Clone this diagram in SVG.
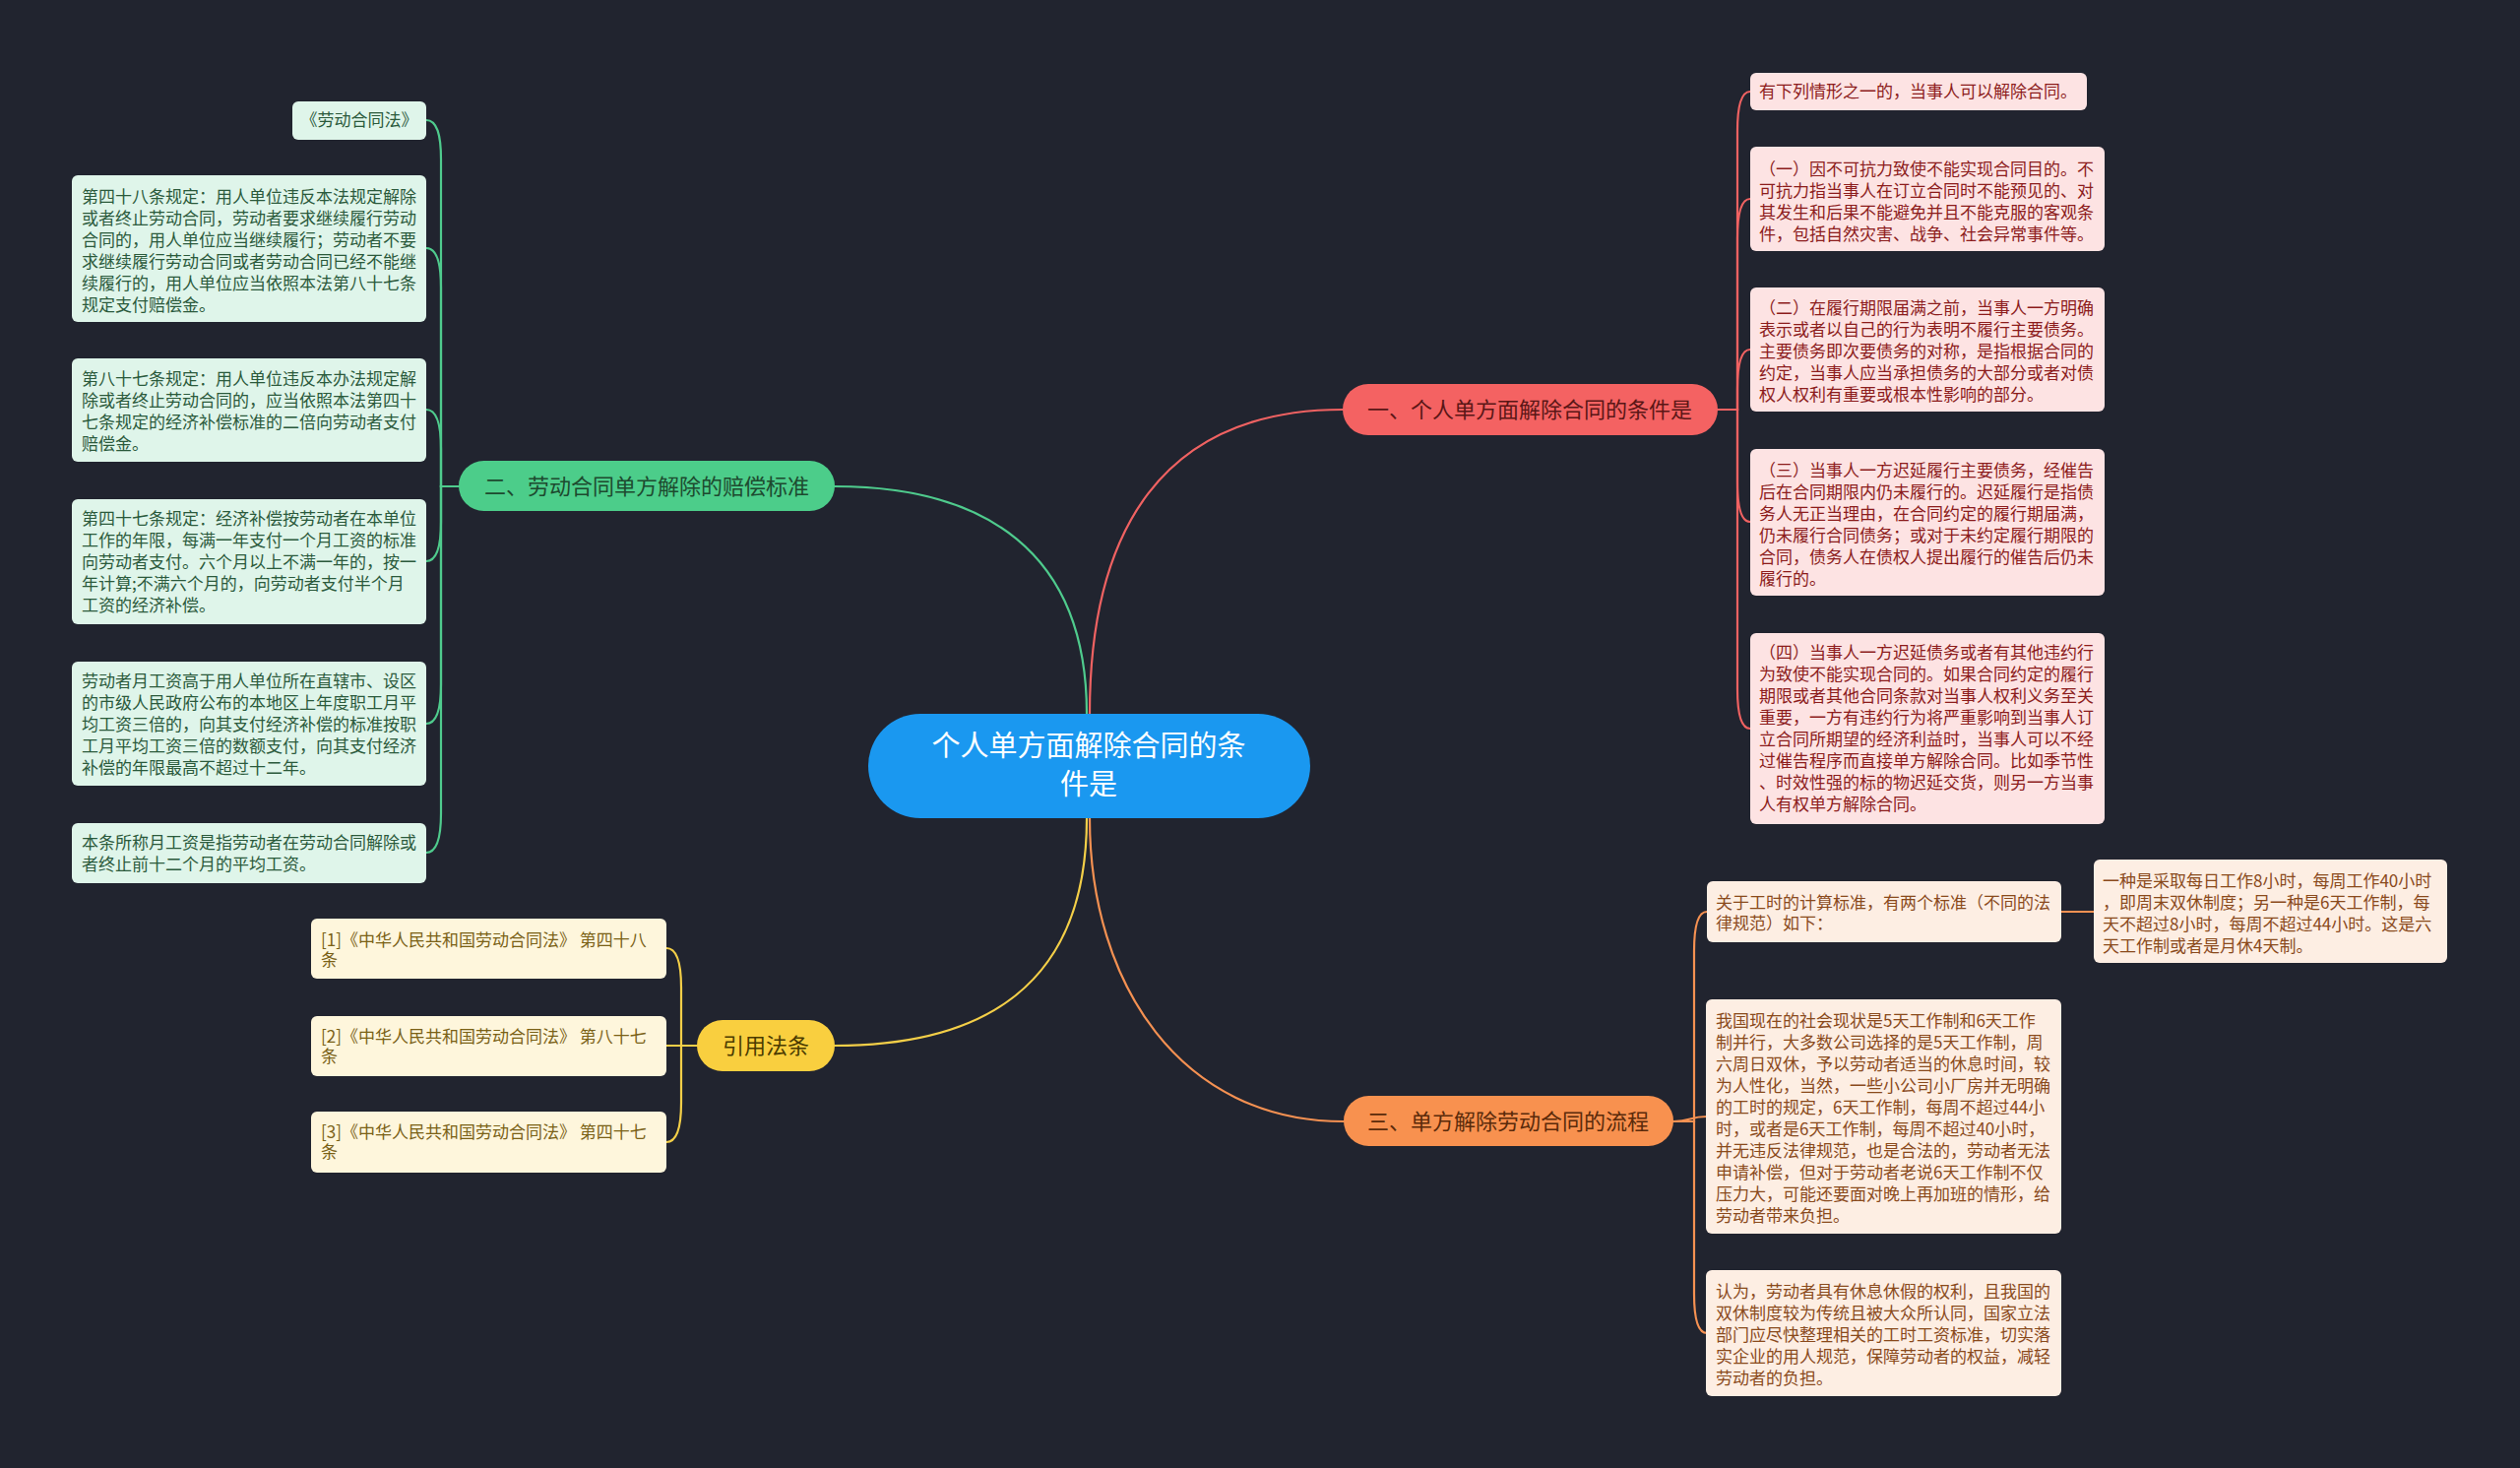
<svg xmlns="http://www.w3.org/2000/svg" width="2560" height="1491" viewBox="0 0 2560 1491">
<style>
text{font-family:"Noto Sans CJK SC","Noto Sans",sans-serif;}
.lf{font-size:17px;}
.mn{font-size:22px;text-anchor:middle;}
.c{fill:none;stroke-width:2.2;stroke-linecap:round;}
.cg{stroke:#4fcb8d;} .cr{stroke:#f06262;} .cy{stroke:#f4cf48;} .co{stroke:#f59152;}
.gl{fill:#dff5ea;} .gt{fill:#2b5a3c;}
.rl{fill:#fde3e3;} .rt{fill:#8c1c1c;}
.ol{fill:#fdeee3;} .ot{fill:#8a4a1c;}
.yl{fill:#fef6dc;} .yt{fill:#7a6116;}
</style>
<rect x="0" y="0" width="2560" height="1491" fill="#21242f"/>

<g id="connectors">
<path class="c cg" d="M1104,725 C1104,560 1000,494 848,494"/>
<path class="c cr" d="M1107,725 C1107,540 1180,416 1364,416"/>
<path class="c cy" d="M1104,831 C1104,1000 1000,1062 848,1062"/>
<path class="c co" d="M1107,831 C1107,1000 1200,1139 1365,1139"/>

<path class="c cg" d="M466,494 H448 V162 C448,137 444,122 433,122"/>
<path class="c cg" d="M466,494 H448 V292 C448,267 444,252 433,252"/>
<path class="c cg" d="M466,494 H448 V456 C448,431 444,416 433,416"/>
<path class="c cg" d="M466,494 H448 V530 C448,555 444,570 433,570"/>
<path class="c cg" d="M466,494 H448 V695 C448,720 444,735 433,735"/>
<path class="c cg" d="M466,494 H448 V826 C448,851 444,866 433,866"/>

<path class="c cr" d="M1745,416 H1765 V133 C1765,108 1769,93 1778,93"/>
<path class="c cr" d="M1745,416 H1765 V242 C1765,217 1769,202 1778,202"/>
<path class="c cr" d="M1745,416 H1765 V395 C1765,370 1769,355 1778,355"/>
<path class="c cr" d="M1745,416 H1765 V490 C1765,515 1769,530 1778,530"/>
<path class="c cr" d="M1745,416 H1765 V700 C1765,725 1769,740 1778,740"/>

<path class="c co" d="M1700,1139 H1721 V966 C1721,941 1725,926 1734,926"/>
<path class="c co" d="M1700,1139 C1718,1139 1716,1134 1734,1134"/>
<path class="c co" d="M1700,1139 H1721 V1314 C1721,1339 1725,1354 1734,1354"/>
<path class="c co" d="M2094,926 H2127"/>

<path class="c cy" d="M708,1062 H692 V1003 C692,978 688,963 677,963"/>
<path class="c cy" d="M708,1062 H677"/>
<path class="c cy" d="M708,1062 H692 V1120 C692,1145 688,1160 677,1160"/>
</g>

<g id="center">
<rect x="882" y="725" width="449" height="106" rx="53" fill="#1a98f0"/>
<text x="1106" y="768" font-size="29" fill="#ffffff" text-anchor="middle">个人单方面解除合同的条</text>
<text x="1106" y="807" font-size="29" fill="#ffffff" text-anchor="middle">件是</text>
</g>

<g id="n1">
<rect x="1364" y="390" width="381" height="52" rx="26" fill="#f46262"/>
<text class="mn" x="1554" y="424" fill="#5a1616">一、个人单方面解除合同的条件是</text>
</g>
<g id="n2">
<rect x="466" y="468" width="382" height="51" rx="25.5" fill="#4ccd8a"/>
<text class="mn" x="657" y="502" fill="#1d4a2f">二、劳动合同单方解除的赔偿标准</text>
</g>
<g id="n3">
<rect x="708" y="1036" width="140" height="52" rx="26" fill="#f9cf3f"/>
<text class="mn" x="778" y="1070" fill="#4a3b00">引用法条</text>
</g>
<g id="n4">
<rect x="1365" y="1113" width="335" height="51" rx="25.5" fill="#f8914f"/>
<text class="mn" x="1532" y="1147" fill="#5a2a0a">三、单方解除劳动合同的流程</text>
</g>

<g id="g1"><rect class="gl" x="297" y="103" width="136" height="39" rx="6"/>
<text class="lf gt" x="365" y="128" text-anchor="middle">《劳动合同法》</text></g>
<g id="g2"><rect class="gl" x="73" y="178" width="360" height="149" rx="6"/>
<text class="lf gt"><tspan x="83" y="206">第四十八条规定：用人单位违反本法规定解除</tspan><tspan x="83" y="228">或者终止劳动合同，劳动者要求继续履行劳动</tspan><tspan x="83" y="250">合同的，用人单位应当继续履行；劳动者不要</tspan><tspan x="83" y="272">求继续履行劳动合同或者劳动合同已经不能继</tspan><tspan x="83" y="294">续履行的，用人单位应当依照本法第八十七条</tspan><tspan x="83" y="316">规定支付赔偿金。</tspan></text></g>
<g id="g3"><rect class="gl" x="73" y="364" width="360" height="105" rx="6"/>
<text class="lf gt"><tspan x="83" y="391">第八十七条规定：用人单位违反本办法规定解</tspan><tspan x="83" y="413">除或者终止劳动合同的，应当依照本法第四十</tspan><tspan x="83" y="435">七条规定的经济补偿标准的二倍向劳动者支付</tspan><tspan x="83" y="457">赔偿金。</tspan></text></g>
<g id="g4"><rect class="gl" x="73" y="507" width="360" height="127" rx="6"/>
<text class="lf gt"><tspan x="83" y="533">第四十七条规定：经济补偿按劳动者在本单位</tspan><tspan x="83" y="555">工作的年限，每满一年支付一个月工资的标准</tspan><tspan x="83" y="577">向劳动者支付。六个月以上不满一年的，按一</tspan><tspan x="83" y="599">年计算;不满六个月的，向劳动者支付半个月</tspan><tspan x="83" y="621">工资的经济补偿。</tspan></text></g>
<g id="g5"><rect class="gl" x="73" y="672" width="360" height="126" rx="6"/>
<text class="lf gt"><tspan x="83" y="698">劳动者月工资高于用人单位所在直辖市、设区</tspan><tspan x="83" y="720">的市级人民政府公布的本地区上年度职工月平</tspan><tspan x="83" y="742">均工资三倍的，向其支付经济补偿的标准按职</tspan><tspan x="83" y="764">工月平均工资三倍的数额支付，向其支付经济</tspan><tspan x="83" y="786">补偿的年限最高不超过十二年。</tspan></text></g>
<g id="g6"><rect class="gl" x="73" y="836" width="360" height="61" rx="6"/>
<text class="lf gt"><tspan x="83" y="862">本条所称月工资是指劳动者在劳动合同解除或</tspan><tspan x="83" y="884">者终止前十二个月的平均工资。</tspan></text></g>

<g id="r1"><rect class="rl" x="1778" y="74" width="342" height="38" rx="6"/>
<text class="lf rt" x="1787" y="99">有下列情形之一的，当事人可以解除合同。</text></g>
<g id="r2"><rect class="rl" x="1778" y="149" width="360" height="106" rx="6"/>
<text class="lf rt"><tspan x="1787" y="178">（一）因不可抗力致使不能实现合同目的。不</tspan><tspan x="1787" y="200">可抗力指当事人在订立合同时不能预见的、对</tspan><tspan x="1787" y="222">其发生和后果不能避免并且不能克服的客观条</tspan><tspan x="1787" y="244">件，包括自然灾害、战争、社会异常事件等。</tspan></text></g>
<g id="r3"><rect class="rl" x="1778" y="292" width="360" height="126" rx="6"/>
<text class="lf rt"><tspan x="1787" y="319">（二）在履行期限届满之前，当事人一方明确</tspan><tspan x="1787" y="341">表示或者以自己的行为表明不履行主要债务。</tspan><tspan x="1787" y="363">主要债务即次要债务的对称，是指根据合同的</tspan><tspan x="1787" y="385">约定，当事人应当承担债务的大部分或者对债</tspan><tspan x="1787" y="407">权人权利有重要或根本性影响的部分。</tspan></text></g>
<g id="r4"><rect class="rl" x="1778" y="456" width="360" height="149" rx="6"/>
<text class="lf rt"><tspan x="1787" y="484">（三）当事人一方迟延履行主要债务，经催告</tspan><tspan x="1787" y="506">后在合同期限内仍未履行的。迟延履行是指债</tspan><tspan x="1787" y="528">务人无正当理由，在合同约定的履行期届满，</tspan><tspan x="1787" y="550">仍未履行合同债务；或对于未约定履行期限的</tspan><tspan x="1787" y="572">合同，债务人在债权人提出履行的催告后仍未</tspan><tspan x="1787" y="594">履行的。</tspan></text></g>
<g id="r5"><rect class="rl" x="1778" y="643" width="360" height="194" rx="6"/>
<text class="lf rt"><tspan x="1787" y="669">（四）当事人一方迟延债务或者有其他违约行</tspan><tspan x="1787" y="691">为致使不能实现合同的。如果合同约定的履行</tspan><tspan x="1787" y="713">期限或者其他合同条款对当事人权利义务至关</tspan><tspan x="1787" y="735">重要，一方有违约行为将严重影响到当事人订</tspan><tspan x="1787" y="757">立合同所期望的经济利益时，当事人可以不经</tspan><tspan x="1787" y="779">过催告程序而直接单方解除合同。比如季节性</tspan><tspan x="1787" y="801">、时效性强的标的物迟延交货，则另一方当事</tspan><tspan x="1787" y="823">人有权单方解除合同。</tspan></text></g>

<g id="o1"><rect class="ol" x="1734" y="895" width="360" height="62" rx="6"/>
<text class="lf ot"><tspan x="1743" y="923">关于工时的计算标准，有两个标准（不同的法</tspan><tspan x="1743" y="944">律规范）如下：</tspan></text></g>
<g id="o1a"><rect class="ol" x="2127" y="873" width="359" height="105" rx="6"/>
<text class="lf ot"><tspan x="2136" y="901">一种是采取每日工作8小时，每周工作40小时</tspan><tspan x="2136" y="923">，即周末双休制度；另一种是6天工作制，每</tspan><tspan x="2136" y="945">天不超过8小时，每周不超过44小时。这是六</tspan><tspan x="2136" y="967">天工作制或者是月休4天制。</tspan></text></g>
<g id="o2"><rect class="ol" x="1733" y="1015" width="361" height="238" rx="6"/>
<text class="lf ot"><tspan x="1743" y="1043">我国现在的社会现状是5天工作制和6天工作</tspan><tspan x="1743" y="1065">制并行，大多数公司选择的是5天工作制，周</tspan><tspan x="1743" y="1087">六周日双休，予以劳动者适当的休息时间，较</tspan><tspan x="1743" y="1109">为人性化，当然，一些小公司小厂房并无明确</tspan><tspan x="1743" y="1131">的工时的规定，6天工作制，每周不超过44小</tspan><tspan x="1743" y="1153">时，或者是6天工作制，每周不超过40小时，</tspan><tspan x="1743" y="1175">并无违反法律规范，也是合法的，劳动者无法</tspan><tspan x="1743" y="1197">申请补偿，但对于劳动者老说6天工作制不仅</tspan><tspan x="1743" y="1219">压力大，可能还要面对晚上再加班的情形，给</tspan><tspan x="1743" y="1241">劳动者带来负担。</tspan></text></g>
<g id="o3"><rect class="ol" x="1733" y="1290" width="361" height="128" rx="6"/>
<text class="lf ot"><tspan x="1743" y="1318">认为，劳动者具有休息休假的权利，且我国的</tspan><tspan x="1743" y="1340">双休制度较为传统且被大众所认同，国家立法</tspan><tspan x="1743" y="1362">部门应尽快整理相关的工时工资标准，切实落</tspan><tspan x="1743" y="1384">实企业的用人规范，保障劳动者的权益，减轻</tspan><tspan x="1743" y="1406">劳动者的负担。</tspan></text></g>

<g id="y1"><rect class="yl" x="316" y="933" width="361" height="61" rx="6"/>
<text class="lf yt"><tspan x="326" y="961">[1]《中华人民共和国劳动合同法》 第四十八</tspan><tspan x="326" y="981">条</tspan></text></g>
<g id="y2"><rect class="yl" x="316" y="1032" width="361" height="61" rx="6"/>
<text class="lf yt"><tspan x="326" y="1059">[2]《中华人民共和国劳动合同法》 第八十七</tspan><tspan x="326" y="1079">条</tspan></text></g>
<g id="y3"><rect class="yl" x="316" y="1129" width="361" height="62" rx="6"/>
<text class="lf yt"><tspan x="326" y="1156">[3]《中华人民共和国劳动合同法》 第四十七</tspan><tspan x="326" y="1176">条</tspan></text></g>
</svg>
